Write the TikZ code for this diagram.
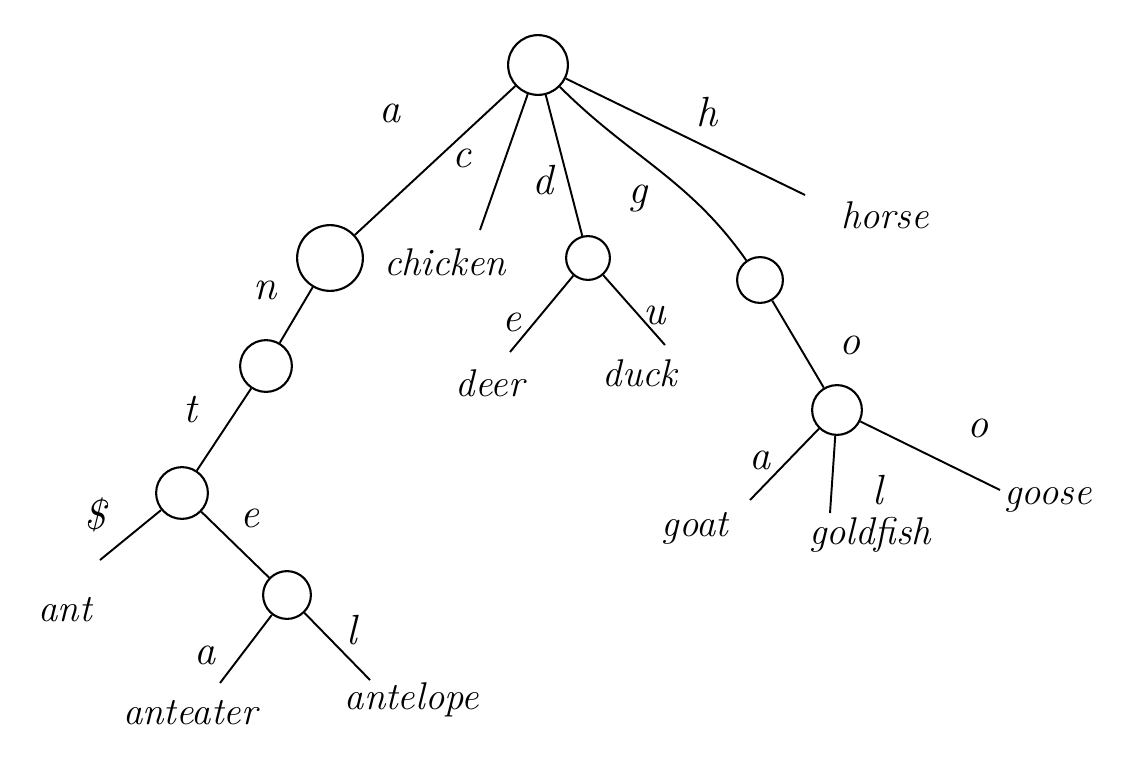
\documentclass[tikz,border=0pt]{standalone}
\begin{document}
\begin{tikzpicture}[x=0.02cm,y=-0.02cm,
  tnode/.style={draw,circle,line width=1.2pt,inner sep=0pt},
  word/.style={font=\fontsize{22}{26}\selectfont\itshape,inner sep=1pt},
  lab/.style={font=\fontsize{24}{28}\selectfont\itshape,inner sep=1pt},
  edge/.style={line width=1.1pt}]
\useasboundingbox (0,0) rectangle (1141,781);
% nodes
\node[tnode,minimum size=60pt*0.5669] (root) at (538,65) {};
\node[tnode,minimum size=66pt*0.5669] (n) at (330,258) {};
\node[tnode,minimum size=44pt*0.5669] (dn) at (588,258) {};
\node[tnode,minimum size=46pt*0.5669] (gn) at (760,280) {};
\node[tnode,minimum size=52pt*0.5669] (t) at (266,366) {};
\node[tnode,minimum size=52pt*0.5669] (s) at (182,493) {};
\node[tnode,minimum size=48pt*0.5669] (en) at (287,595) {};
\node[tnode,minimum size=50pt*0.5669] (on) at (837,410) {};
% words
\node[word] (chicken) at (445,262) {chicken};
\node[word] (horse) at (885,215) {horse};
\node[word] (deer) at (490,383) {deer};
\node[word] (duck) at (640,373) {duck};
\node[word] (ant) at (65,610) {ant};
\node[word] (anteater) at (190,713) {anteater};
\node[word] (antelope) at (412,700) {antelope};
\node[word] (goat) at (695,528) {goat};
\node[word] (goldfish) at (870,535) {goldfish};
\node[word] (goose) at (1048,500) {goose};
% free ends of connectors
\coordinate (echicken) at (480,230);
\coordinate (ehorse) at (805,195);
\coordinate (edeer) at (510,352);
\coordinate (educk) at (665,345);
\coordinate (eant) at (100,560);
\coordinate (eanteater) at (220,683);
\coordinate (eantelope) at (370,680);
\coordinate (egoat) at (750,500);
\coordinate (egoldfish) at (830,513);
\coordinate (egoose) at (1000,490);
% edges
\draw[edge] (root) -- (n);
\draw[edge] (root) -- (echicken);
\draw[edge] (root) -- (dn);
\draw[edge] (root) to[out=-45,in=125] (gn);
\draw[edge] (root) -- (ehorse);
\draw[edge] (n) -- (t);
\draw[edge] (t) -- (s);
\draw[edge] (s) -- (eant);
\draw[edge] (s) -- (en);
\draw[edge] (en) -- (eanteater);
\draw[edge] (en) -- (eantelope);
\draw[edge] (dn) -- (edeer);
\draw[edge] (dn) -- (educk);
\draw[edge] (gn) -- (on);
\draw[edge] (on) -- (egoat);
\draw[edge] (on) -- (egoldfish);
\draw[edge] (on) -- (egoose);
% labels
\node[lab] (la) at (390,113) {a};
\node[lab] (lc) at (462,158) {c};
\node[lab] (ld) at (543,180) {d};
\node[lab] (lg) at (638,198) {g};
\node[lab] (lh) at (707,112) {h};
\node[lab] (ln) at (265,290) {n};
\node[lab] (lt) at (190,410) {t};
\node[lab] (ldol) at (95,515) {\$};
\node[lab] (le1) at (250,518) {e};
\node[lab] (la2) at (205,655) {a};
\node[lab] (ll1) at (352,630) {l};
\node[lab] (le2) at (512,322) {e};
\node[lab] (lu) at (655,315) {u};
\node[lab] (lo1) at (850,345) {o};
\node[lab] (la3) at (760,460) {a};
\node[lab] (ll2) at (878,490) {l};
\node[lab] (lo2) at (978,428) {o};
\end{tikzpicture}
\end{document}
